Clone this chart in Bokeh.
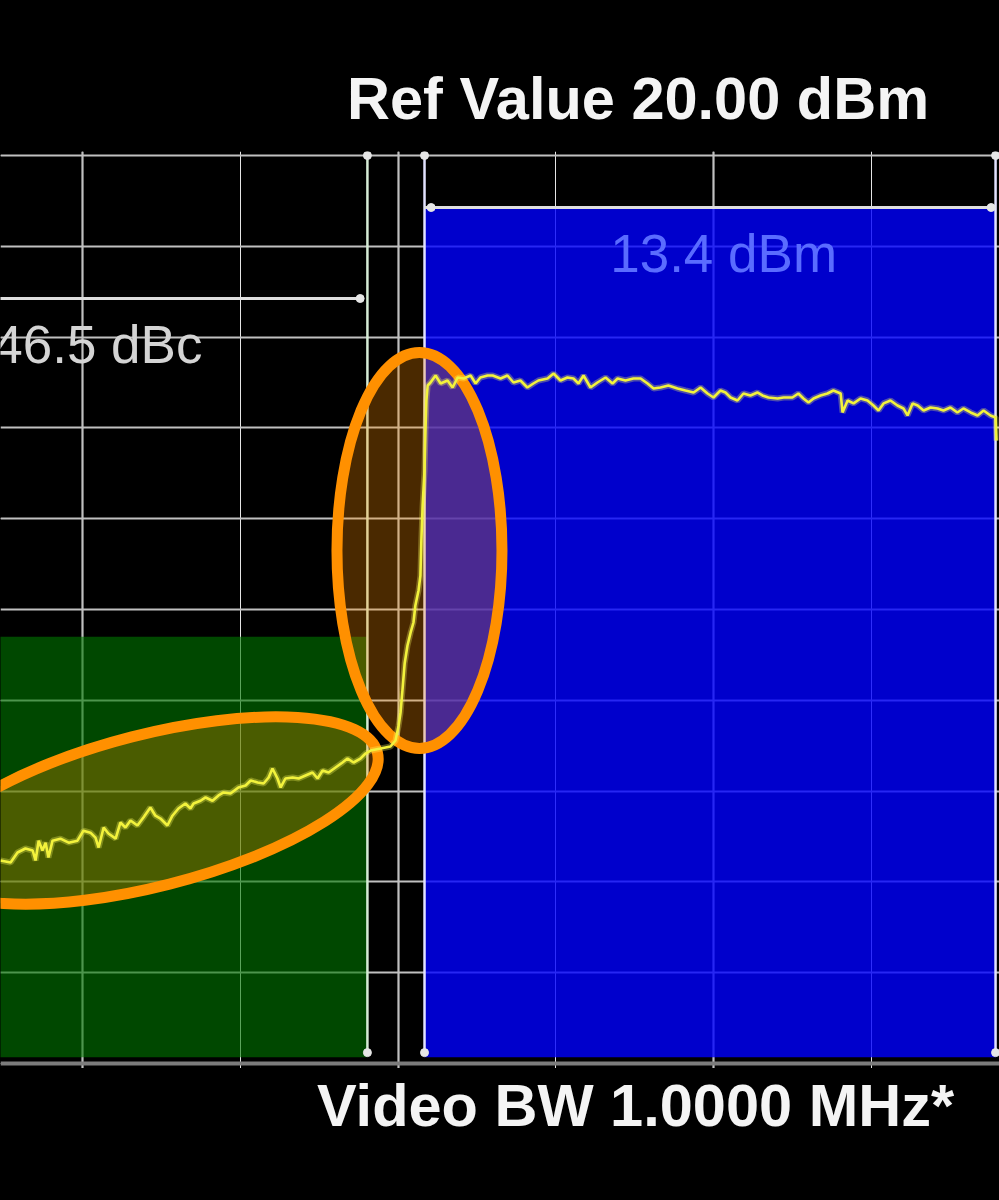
from bokeh.plotting import figure
from bokeh.models import Range1d, Grid, FixedTicker, Span, Div, GlobalInlineStyleSheet
from bokeh.layouts import column
from bokeh.core.properties import value
from bokeh.embed import file_html
from bokeh.resources import INLINE

# ---------------- data (frequency offset in MHz, level in dBm) ----------------
ref_level_text = "Ref Value 20.00 dBm"
vbw_text = "Video BW 1.0000 MHz*"
channel_power_text = "13.4 dBm"
aclr_text = "46.5 dBc"

y_ticks = [-70, -60, -50, -40, -30, -20, -10, 0, 10, 20]
x_ticks = [-20, -10, 0]

# channel bars: adjacent (green) and main (blue)
bar_left = [-23.0, -9.16]
bar_right = [-10.97, 8.94]
bar_top = [-33.0, 14.2]
bar_bottom = [-79.3, -79.3]

# adjacent channel + transition trace
adj_freq = [-22.60, -22.28, -22.06, -21.81, -21.58, -21.49, -21.39, -21.27, -21.17, -21.08,
            -20.95, -20.70, -20.44, -20.16, -19.97, -19.75, -19.59, -19.49, -19.33, -19.18,
            -18.95, -18.80, -18.64, -18.48, -18.26, -18.07, -17.85, -17.69, -17.53, -17.31,
            -17.15, -16.96, -16.74, -16.58, -16.48, -16.26, -16.10, -15.88, -15.69, -15.53,
            -15.31, -15.06, -14.83, -14.67, -14.45, -14.26, -14.10, -13.98, -13.82, -13.72,
            -13.57, -13.34, -13.15, -12.93, -12.71, -12.55, -12.39, -12.20, -11.98, -11.76,
            -11.60, -11.41, -11.19, -11.03, -10.87, -10.55, -10.24, -10.08, -9.98, -9.92,
            -9.86, -9.79, -9.70, -9.60, -9.51, -9.45, -9.35, -9.29, -9.26, -9.22,
            -9.16, -9.13, -9.10, -9.06]
adj_level = [-57.64, -57.86, -56.76, -56.32, -56.54, -57.64, -55.46, -56.54, -55.68, -57.31,
             -55.46, -55.24, -55.68, -55.46, -54.36, -54.58, -55.13, -56.21, -54.01, -54.67,
             -55.24, -53.46, -54.01, -53.24, -53.79, -52.91, -51.81, -52.71, -53.02, -53.79,
             -52.71, -51.92, -51.37, -51.92, -51.37, -51.06, -50.70, -51.06, -50.48, -50.15,
             -50.26, -49.60, -49.38, -48.83, -49.05, -49.16, -48.50, -47.51, -48.61, -49.60,
             -48.61, -48.50, -48.61, -48.28, -47.95, -48.61, -47.73, -47.95, -47.40, -46.85,
             -46.41, -46.85, -46.41, -45.86, -45.53, -45.31, -45.09, -44.43, -42.78, -41.34,
             -38.92, -35.95, -33.96, -32.53, -31.43, -29.56, -27.91, -26.26, -22.40, -18.55,
             -14.69, -10.29, -6.98, -5.33]

# main channel trace
main_freq = [-8.97, -8.81, -8.65, -8.43, -8.27, -8.11, -7.92, -7.70, -7.54, -7.39,
             -7.16, -7.00, -6.75, -6.53, -6.34, -6.12, -5.90, -5.71, -5.55, -5.26,
             -5.07, -4.85, -4.63, -4.44, -4.28, -4.12, -3.90, -3.68, -3.42, -3.20,
             -3.04, -2.79, -2.54, -2.31, -2.09, -1.90, -1.68, -1.43, -1.14, -0.89,
             -0.63, -0.41, -0.19, 0.00, 0.22, 0.38, 0.54, 0.76, 0.95, 1.17,
             1.39, 1.55, 1.74, 2.03, 2.22, 2.50, 2.69, 2.85, 3.01, 3.17,
             3.39, 3.61, 3.80, 4.03, 4.09, 4.25, 4.44, 4.66, 4.88, 5.07,
             5.23, 5.39, 5.61, 5.83, 6.02, 6.15, 6.31, 6.47, 6.66, 6.88,
             7.10, 7.29, 7.51, 7.73, 7.92, 8.15, 8.37, 8.56, 8.78, 8.94, 8.97]
main_level = [-5.00, -4.23, -5.11, -4.78, -5.55, -4.45, -4.56, -4.23, -5.11, -4.45,
              -4.23, -4.23, -4.56, -4.23, -5.00, -4.78, -5.55, -5.11, -4.78, -4.56,
              -4.01, -4.78, -4.45, -4.56, -5.11, -4.23, -5.55, -5.00, -4.45, -5.11,
              -4.56, -4.78, -4.56, -4.56, -5.11, -5.66, -5.55, -5.33, -5.66, -5.88,
              -6.10, -5.55, -6.21, -6.65, -5.88, -6.10, -6.65, -6.98, -6.21, -6.43,
              -6.10, -6.43, -6.65, -6.76, -6.65, -6.65, -6.21, -6.76, -7.20, -6.76,
              -6.43, -6.21, -5.88, -6.21, -8.30, -6.98, -7.30, -6.76, -6.98, -7.53,
              -8.08, -7.30, -6.98, -7.53, -7.86, -8.63, -7.30, -7.53, -8.08, -7.75,
              -7.86, -8.08, -7.75, -8.30, -7.86, -8.30, -8.63, -8.08, -8.63, -8.85, -11.39]

trace_freq = adj_freq + main_freq
trace_level = adj_level + main_level

# channel limit markers
marker_v_x = [-10.97, -9.16, 8.94]
marker_v_top = [20.0, 20.0, 20.0]
marker_v_bottom = [-78.8, -78.8, -78.8]
marker_h_x0 = [-9.16, -23.0]
marker_h_x1 = [8.8, -11.2]
marker_h_y = [14.27, 4.25]
dot_x = [-10.97, -9.16, 8.94, -10.97, -9.16, 8.94, -8.95, 8.8, -11.2]
dot_y = [20.0, 20.0, 20.0, -78.8, -78.8, -78.8, 14.27, 14.27, 4.25]

# ---------------- figure ----------------
page_css = GlobalInlineStyleSheet(css="html, body { background-color: #000000; }")

p = figure(width=999, height=917,
           x_range=Range1d(-22.60, 9.065), y_range=Range1d(-80.55, 20.44),
           output_backend="svg", toolbar_location=None,
           x_axis_location=None, y_axis_location=None,
           min_border_left=0, min_border_right=0, min_border_top=0, min_border_bottom=0,
           background_fill_color="black", border_fill_color="black",
           outline_line_color=None)

p.add_layout(Grid(dimension=1, ticker=FixedTicker(ticks=y_ticks),
                  grid_line_color="#c0c0c0", grid_line_width=2.2))
p.add_layout(Grid(dimension=0, ticker=FixedTicker(ticks=x_ticks),
                  grid_line_color="#c0c0c0", grid_line_width=2.2))
p.add_layout(Span(location=-80, dimension="width", line_color="#7c7c7c", line_width=4))

# channel bars
p.quad(left=[bar_left[0]], right=[bar_right[0]], top=[bar_top[0]], bottom=[bar_bottom[0]],
       fill_color="#007800", fill_alpha=0.6, line_color=None)
p.quad(left=[bar_left[1]], right=[bar_right[1]], top=[bar_top[1]], bottom=[bar_bottom[1]],
       fill_color="#0000ff", fill_alpha=0.8, line_color=None)

# markers
p.segment(x0=marker_v_x, x1=marker_v_x, y0=marker_v_top, y1=marker_v_bottom,
          line_color=["#d6ecd6", "#e2e2ff", "#e2e2ff"], line_width=2.5)
p.segment(x0=marker_h_x0, x1=marker_h_x1, y0=marker_h_y, y1=marker_h_y,
          line_color="#dedede", line_width=3)
p.scatter(dot_x, dot_y, size=8, color="#e6e6e6")

# highlight ellipses
p.ellipse(x=[-17.84], y=[-52.14], width=[468], height=[152], angle=[0.25],
          width_units="screen", height_units="screen",
          fill_color="#ff8c00", fill_alpha=0.29, line_color="#ff9000", line_width=11)
p.ellipse(x=[-9.32], y=[-23.5], width=[165], height=[396], angle=[0.0],
          width_units="screen", height_units="screen",
          fill_color="#ff8c00", fill_alpha=0.29, line_color="#ff9000", line_width=11)

# trace
p.line(trace_freq, trace_level, line_color="#ffff60", line_width=6, line_alpha=0.3)
p.line(trace_freq, trace_level, line_color="#f2f23c", line_width=2.6)

# in-plot texts
p.text(x=[0.32], y=[9.2], text=[channel_power_text], text_align="center",
       text_baseline="alphabetic", text_color="#5a6cff",
       text_font=value("Liberation Sans"), text_font_size="53px")
p.text(x=[-16.2], y=[-0.82], text=[aclr_text], text_align="right",
       text_baseline="alphabetic", text_color="#d4d4d4",
       text_font=value("Liberation Sans"), text_font_size="53px")

# header / footer texts
txt_style = ("font-family:'Liberation Sans',Arial,sans-serif;font-weight:bold;font-size:59.5px;"
             "line-height:58px;color:#f4f4f4;white-space:nowrap;")
top_div = Div(text='<div style="padding-top:65px;padding-left:342px;' + txt_style + '">'
              + ref_level_text + '</div>', width=999, height=141,
              styles={"background-color": "#000000"})
bottom_div = Div(text='<div style="padding-top:4px;padding-left:312px;' + txt_style + '">'
                 + vbw_text + '</div>', width=999, height=120,
                 styles={"background-color": "#000000"})

layout = column(top_div, p, bottom_div, spacing=0, stylesheets=[page_css])

open("out.html", "w").write(file_html(layout, INLINE))
